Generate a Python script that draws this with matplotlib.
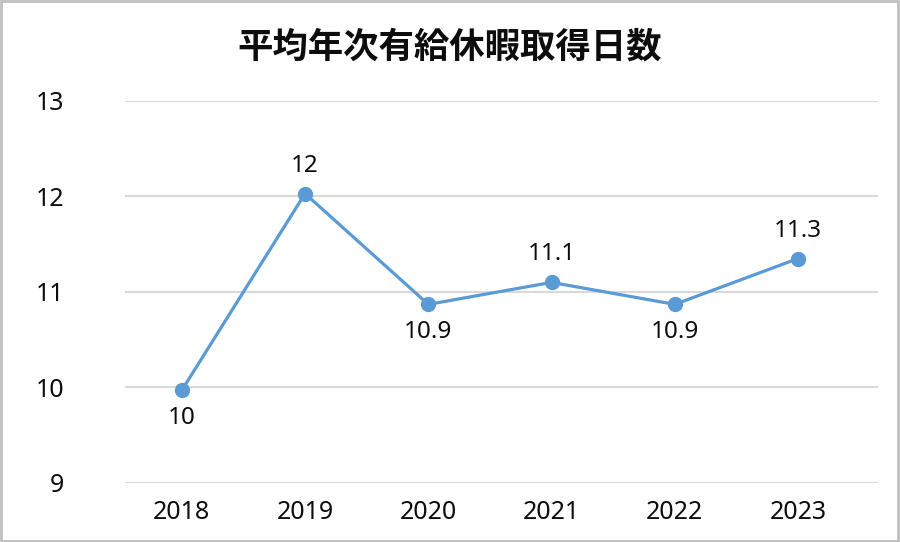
import matplotlib

matplotlib.use("Agg")
import matplotlib.pyplot as plt

plt.rcParams["font.family"] = ["Noto Sans", "Noto Sans CJK JP", "DejaVu Sans"]

# データ
years = ["2018", "2019", "2020", "2021", "2022", "2023"]
days = [9.97, 12.03, 10.87, 11.10, 10.87, 11.35]
labels = ["10", "12", "10.9", "11.1", "10.9", "11.3"]
label_pos = ["below", "above", "below", "above", "below", "above"]
yticks = [9, 10, 11, 12, 13]

LINE_COLOR = "#5B9BD5"
TEXT_COLOR = "#0d0d0d"

fig = plt.figure(figsize=(9, 5.42), dpi=100)
ax = fig.add_axes([0.139, 0.109, 0.8367, 0.7047])

x = list(range(len(years)))
ax.plot(x, days, color=LINE_COLOR, lw=2.3, marker="o", ms=10, zorder=3)

for xi, v, txt, pos in zip(x, days, labels, label_pos):
    dy = 28 if pos == "above" else -28
    ax.annotate(txt, (xi, v), xytext=(0, dy), textcoords="offset pixels",
                ha="center", va="center", fontsize=17.5, color=TEXT_COLOR)

ax.set_ylim(9, 13)
ax.set_xlim(-0.46, 5.65)
ax.set_yticks(yticks)
ax.set_yticklabels([str(t) for t in yticks], fontsize=18)
ax.set_xticks(x)
ax.set_xticklabels(years, fontsize=18)
ax.grid(axis="y", color="#d9d9d9", lw=1.5)
ax.set_axisbelow(True)
for s in ax.spines.values():
    s.set_visible(False)
ax.tick_params(length=0, labelcolor=TEXT_COLOR)
ax.tick_params(axis="y", pad=44)
ax.tick_params(axis="x", pad=12)
for lab in ax.get_yticklabels():
    lab.set_horizontalalignment("right")

fig.text(0.5, 0.913, "平均年次有給休暇取得日数", ha="center", va="center",
         fontsize=25.5, fontweight="bold", color=TEXT_COLOR,
         family=["Noto Sans CJK JP", "DejaVu Sans"])

# 外枠
fig.patches.append(plt.Rectangle((0.001, 0.002), 0.997, 0.996, transform=fig.transFigure,
                                 fill=False, edgecolor="#bfbfbf", lw=2))

fig.savefig("out.png", dpi=100)
